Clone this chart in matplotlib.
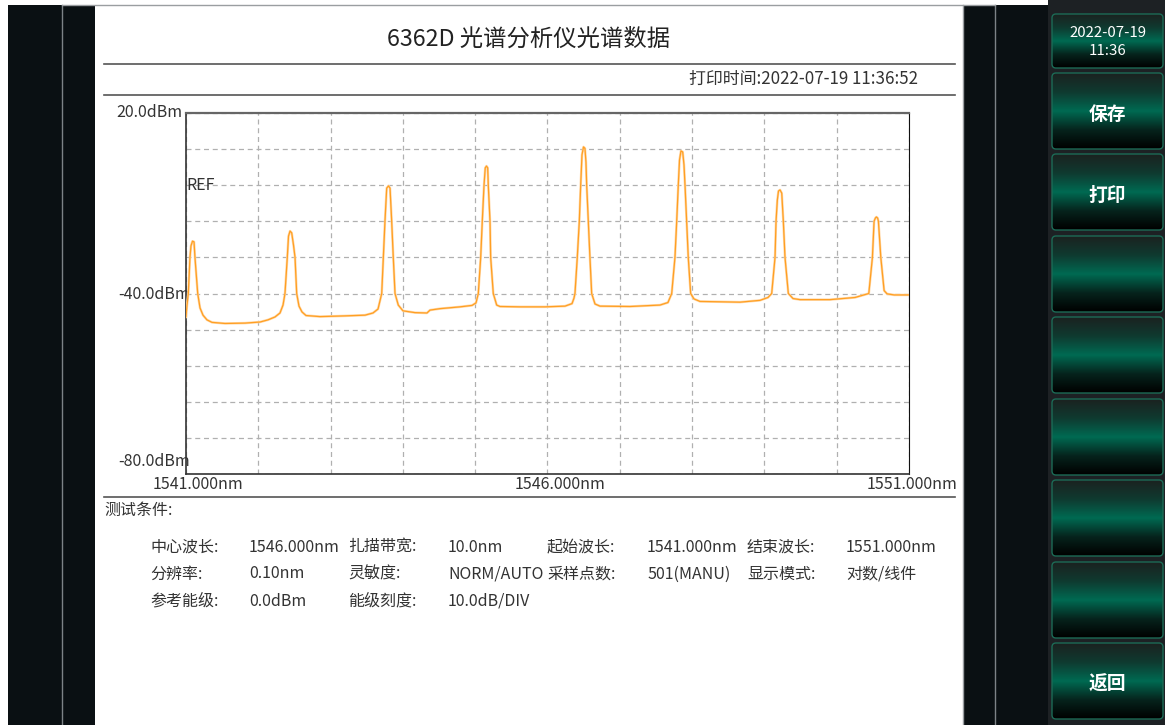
import numpy as np
import matplotlib
matplotlib.use("Agg")
import matplotlib.pyplot as plt
from matplotlib.patches import Rectangle, FancyBboxPatch
from matplotlib.colors import LinearSegmentedColormap

plt.rcParams['font.family'] = ['Noto Sans CJK SC', 'DejaVu Sans']

# spectrum trace (nm, dBm)
wavelength = [
    1541.000, 1541.014, 1541.032, 1541.055, 1541.069, 1541.090, 1541.111, 1541.124, 1541.162, 1541.194,
    1541.235, 1541.290, 1541.360, 1541.539, 1541.816, 1542.024, 1542.134, 1542.231, 1542.300, 1542.342,
    1542.369, 1542.401, 1542.418, 1542.439, 1542.462, 1542.487, 1542.508, 1542.531, 1542.563, 1542.604,
    1542.660, 1542.853, 1543.199, 1543.476, 1543.586, 1543.656, 1543.707, 1543.729, 1543.752, 1543.776,
    1543.801, 1543.822, 1543.845, 1543.867, 1543.891, 1543.936, 1544.001, 1544.167, 1544.333, 1544.375,
    1544.513, 1544.790, 1544.956, 1545.011, 1545.043, 1545.076, 1545.098, 1545.122, 1545.139, 1545.156,
    1545.173, 1545.181, 1545.205, 1545.214, 1545.250, 1545.297, 1545.343, 1545.620, 1545.965, 1546.242,
    1546.339, 1546.366, 1546.380, 1546.412, 1546.440, 1546.459, 1546.477, 1546.498, 1546.518, 1546.532,
    1546.542, 1546.564, 1546.587, 1546.611, 1546.657, 1546.726, 1547.141, 1547.556, 1547.666, 1547.718,
    1547.763, 1547.787, 1547.809, 1547.826, 1547.846, 1547.870, 1547.888, 1547.902, 1547.925, 1547.947,
    1547.980, 1548.026, 1548.109, 1548.662, 1548.939, 1549.050, 1549.101, 1549.147, 1549.161, 1549.179,
    1549.195, 1549.216, 1549.240, 1549.262, 1549.285, 1549.331, 1549.396, 1549.493, 1549.908, 1550.254,
    1550.378, 1550.444, 1550.494, 1550.517, 1550.535, 1550.549, 1550.566, 1550.577, 1550.610, 1550.656,
    1550.697, 1550.795, 1551.000,
]
power = [
    -36.5, -33.2, -30.0, -20.0, -16.8, -15.5, -15.7, -20.0, -30.0, -34.0,
    -36.0, -37.3, -38.0, -38.3, -38.2, -37.9, -37.3, -36.5, -35.4, -33.2,
    -30.0, -20.0, -14.1, -12.7, -13.2, -16.6, -20.0, -30.0, -33.5, -35.1,
    -36.1, -36.4, -36.2, -36.0, -35.4, -34.3, -30.0, -20.0, -10.0, -0.8,
    -0.2, -0.8, -10.0, -20.0, -30.0, -33.2, -34.8, -35.3, -35.4, -34.6,
    -34.2, -33.7, -33.3, -32.6, -30.0, -20.0, -10.0, 0.0, 4.8, 5.3,
    4.8, 0.0, -10.0, -20.0, -30.0, -33.2, -33.6, -33.7, -33.7, -33.5,
    -32.8, -31.3, -30.0, -20.0, -10.0, 0.0, 8.4, 10.6, 10.2, 6.4,
    0.0, -10.0, -20.0, -30.0, -32.9, -33.5, -33.6, -33.2, -32.5, -30.0,
    -20.0, -10.0, 0.0, 7.0, 9.5, 9.2, 5.6, 0.0, -10.0, -20.0,
    -30.0, -31.5, -32.2, -32.4, -31.9, -31.1, -30.0, -20.0, -10.0, -4.1,
    -1.6, -1.3, -2.2, -10.0, -20.0, -30.0, -31.4, -31.7, -31.7, -31.1,
    -30.4, -30.0, -20.0, -10.0, -9.1, -8.8, -9.1, -10.0, -20.0, -29.2,
    -30.1, -30.4, -30.4,
]

y_labels = ['20.0dBm', '-40.0dBm', '-80.0dBm']
x_labels = ['1541.000nm', '1546.000nm', '1551.000nm']

cond_rows = [
    ['中心波长:', '1546.000nm', '扎描带宽:', '10.0nm', '起始波长:', '1541.000nm', '结束波长:', '1551.000nm'],
    ['分辨率:', '0.10nm', '灵敏度:', 'NORM/AUTO', '采样点数:', '501(MANU)', '显示模式:', '对数/线件'],
    ['参考能级:', '0.0dBm', '能级刻度:', '10.0dB/DIV'],
]
buttons = ['2022-07-19\n11:36', '保存', '打印', '', '', '', '', '', '返回']

W, H = 1165, 725
fig = plt.figure(figsize=(W / 100, H / 100), dpi=100, facecolor='white')

# background layer in pixel coordinates
bg = fig.add_axes([0, 0, 1, 1])
bg.set_xlim(0, W)
bg.set_ylim(H, 0)
bg.axis('off')

dark = '#0a1013'
bg.add_patch(Rectangle((8, 5), 87, H - 5, color=dark, lw=0))
bg.add_patch(Rectangle((963, 5), 85, H - 5, color=dark, lw=0))
bg.add_patch(Rectangle((1048, 0), W - 1048, H, color='#1d2124', lw=0))
bg.plot([62, 62], [5, H], color='#7d8387', lw=1)
bg.plot([995, 995], [5, H], color='#7d8387', lw=1)
bg.plot([963, 963], [5, H], color='#9a9ea1', lw=1)
bg.plot([62, 995], [5, 5], color='#9a9ea1', lw=1)

fs = 11.5
txt = '#333333'

# header
bg.text(529, 39, '6362D 光谱分析仪光谱数据', ha='center', va='center', fontsize=16.8, color='#222222')
bg.plot([104, 955], [64, 64], color='#555555', lw=1.2)
bg.text(918, 79, '打印时间:2022-07-19 11:36:52', ha='right', va='center', fontsize=12.2, color=txt)
bg.plot([104, 955], [95, 95], color='#555555', lw=1.2)

# axis text
bg.text(182, 112, y_labels[0], ha='right', va='center', fontsize=fs, color=txt)
bg.text(190, 294, y_labels[1], ha='right', va='center', fontsize=fs, color=txt, zorder=5)
bg.text(190, 461, y_labels[2], ha='right', va='center', fontsize=fs, color=txt, zorder=5)
bg.text(198, 484, x_labels[0], ha='center', va='center', fontsize=fs, color=txt)
bg.text(560, 484, x_labels[1], ha='center', va='center', fontsize=fs, color=txt)
bg.text(912, 484, x_labels[2], ha='center', va='center', fontsize=fs, color=txt)

# test conditions
bg.plot([104, 955], [497, 497], color='#555555', lw=1.2)
bg.text(104, 510, '测试条件:', ha='left', va='center', fontsize=fs, color=txt)
col_x = [150, 249, 348, 448, 547, 647, 747, 846]
row_y = [547, 574, 601]
for row, yy in zip(cond_rows, row_y):
    for s, xx in zip(row, col_x):
        bg.text(xx, yy, s, ha='left', va='center', fontsize=fs, color=txt)

# soft-key buttons
cmap = LinearSegmentedColormap.from_list('btn', ['#1b2220', '#0f3a30', '#006a52', '#06231c', '#000000'])
grad = np.linspace(0, 1, 256).reshape(-1, 1)
btn_top = [14, 73, 154, 236, 317, 399, 480, 562, 643]
btn_bot = [68, 149, 230, 312, 393, 475, 556, 638, 719]
for label, y0, y1 in zip(buttons, btn_top, btn_bot):
    box = FancyBboxPatch((1052, y0), 111, y1 - y0, boxstyle='round,pad=0,rounding_size=4',
                         facecolor='none', edgecolor='#1c6b56', lw=1, zorder=3)
    bg.add_patch(box)
    im = bg.imshow(grad, extent=(1052, 1163, y1, y0), cmap=cmap, aspect='auto', zorder=2)
    im.set_clip_path(box)
    if '\n' in label:
        bg.text(1107.5, 33, label.split('\n')[0], ha='center', va='center', fontsize=10.8,
                color='white', zorder=4)
        bg.text(1107.5, 51, label.split('\n')[1], ha='center', va='center', fontsize=10.8,
                color='white', zorder=4)
    elif label:
        bg.text(1107.5, (y0 + y1) / 2 + 3, label, ha='center', va='center', fontsize=13.5,
                color='white', zorder=4, fontweight='bold')
bg.set_xlim(0, W)
bg.set_ylim(H, 0)

# spectrum axes
ax = fig.add_axes([186 / W, 1 - 474 / H, 723 / W, 361 / H])
ax.set_facecolor('none')
ax.set_xlim(1541, 1551)
ax.set_ylim(-80, 20)
ax.set_xticks(np.arange(1541, 1552, 1))
ax.set_yticks(np.arange(-80, 21, 10))
ax.tick_params(length=0, labelleft=False, labelbottom=False)
ax.grid(True, color='#b0b0b0', ls=(0, (4, 3)), lw=0.9)
for side in ['left', 'bottom']:
    ax.spines[side].set_color('#333333')
    ax.spines[side].set_linewidth(1.2)
ax.spines['top'].set_color('#666666')
ax.spines['top'].set_linewidth(1.6)
ax.spines['right'].set_color('#111111')
ax.spines['right'].set_linestyle((0, (1, 1)))

ax.plot(wavelength, power, color='#ffd9aa', lw=1.8, zorder=3)
ax.plot(wavelength, power, color='#ff9f22', lw=0.9, zorder=4)
ax.text(0, 0, 'REF', transform=ax.get_yaxis_transform(), ha='left', va='center', fontsize=fs, color=txt)

fig.savefig('out.png', dpi=100, facecolor='white')
